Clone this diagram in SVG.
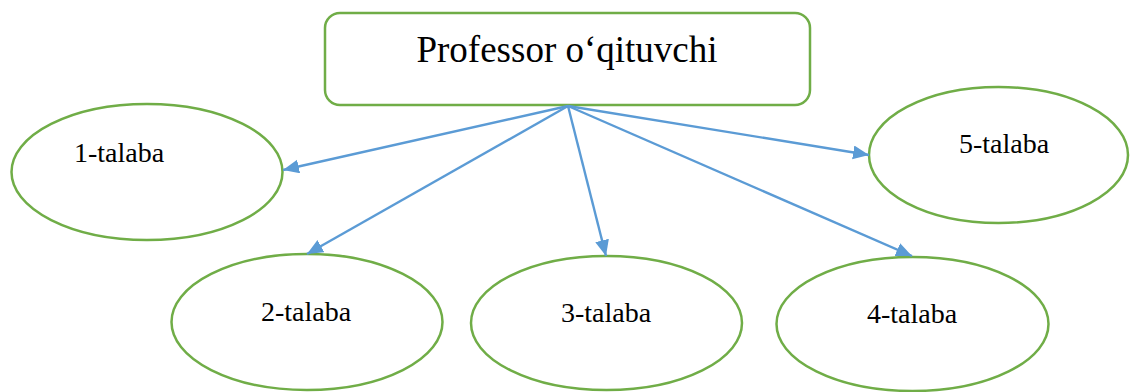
<svg xmlns="http://www.w3.org/2000/svg" width="1130" height="392" viewBox="0 0 1130 392">
<style>
.node{fill:#fff;stroke:#70AD47;stroke-width:2.5}
.lbl{font-family:"Liberation Serif","Times New Roman",serif;fill:#000;text-anchor:middle}
.conn{stroke:#5B9BD5;stroke-width:2.4;fill:none;marker-end:url(#ah)}
</style>
<defs>
<marker id="ah" markerUnits="userSpaceOnUse" markerWidth="17" markerHeight="15" refX="16" refY="7" orient="auto">
<path d="M0,0 L16,7 L0,14 Z" fill="#5B9BD5"/>
</marker>
</defs>
<g id="professor">
<rect class="node" x="325" y="13" width="485" height="92" rx="15"/>
<text class="lbl" x="567" y="62" font-size="37">Professor o‘qituvchi</text>
</g>
<g id="talaba1">
<ellipse class="node" cx="147" cy="172" rx="135.5" ry="68"/>
<text class="lbl" x="119" y="162" font-size="28">1-talaba</text>
</g>
<g id="talaba2">
<ellipse class="node" cx="307" cy="322" rx="135.5" ry="68"/>
<text class="lbl" x="306" y="321" font-size="28">2-talaba</text>
</g>
<g id="talaba3">
<ellipse class="node" cx="606.5" cy="323" rx="135.5" ry="67"/>
<text class="lbl" x="606" y="322" font-size="28">3-talaba</text>
</g>
<g id="talaba4">
<ellipse class="node" cx="912.5" cy="324" rx="136" ry="67"/>
<text class="lbl" x="912" y="323" font-size="28">4-talaba</text>
</g>
<g id="talaba5">
<ellipse class="node" cx="998.5" cy="155" rx="129.5" ry="68"/>
<text class="lbl" x="1004" y="153" font-size="28">5-talaba</text>
</g>
<g id="connectors">
<line class="conn" x1="568" y1="106" x2="283" y2="170"/>
<line class="conn" x1="568" y1="106" x2="307" y2="254"/>
<line class="conn" x1="568" y1="106" x2="606" y2="256"/>
<line class="conn" x1="568" y1="106" x2="912" y2="256"/>
<line class="conn" x1="568" y1="106" x2="869" y2="155"/>
</g>
</svg>
